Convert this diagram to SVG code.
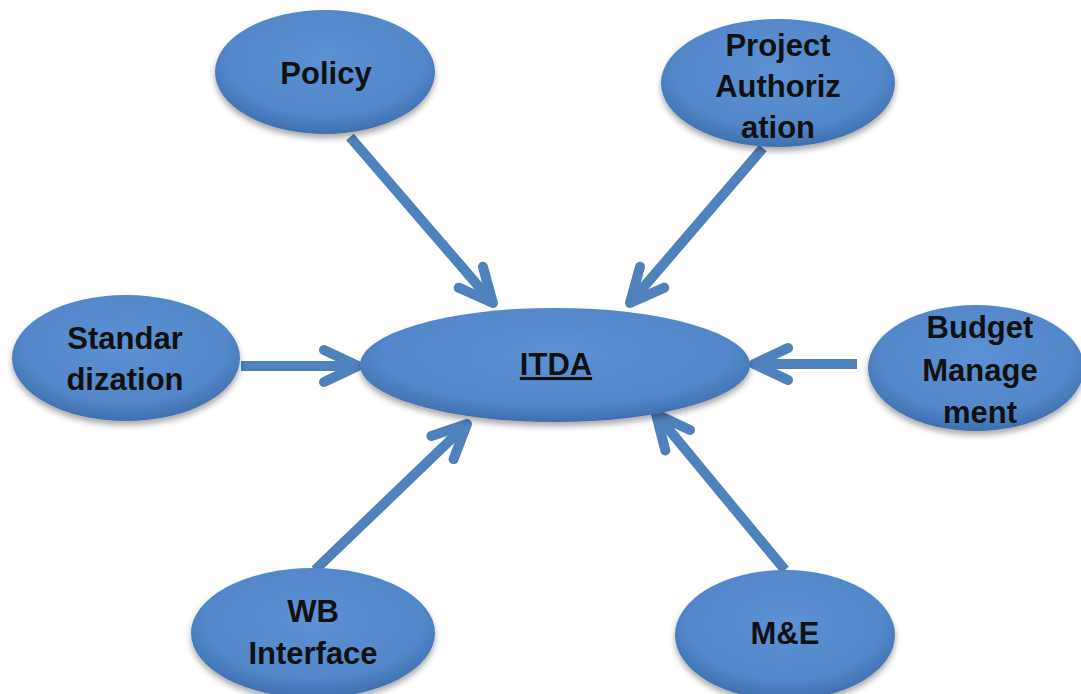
<svg xmlns="http://www.w3.org/2000/svg" width="1081" height="694" viewBox="0 0 1081 694">
<style>
.node{fill:url(#g);filter:url(#sh);}
.lbl{font-family:"Liberation Sans",Arial,sans-serif;font-weight:bold;font-size:31px;fill:#111;text-anchor:middle;}
.arr{stroke:#4f81bd;stroke-width:10;fill:none;stroke-linecap:butt;marker-end:url(#head);}
</style>
<defs>
<radialGradient id="g" cx="50%" cy="40%" r="60%">
<stop offset="0" stop-color="#5c91d3"/>
<stop offset="0.75" stop-color="#5287c9"/>
<stop offset="1" stop-color="#3f6fae"/>
</radialGradient>
<filter id="sh" x="-10%" y="-10%" width="120%" height="130%">
<feGaussianBlur in="SourceAlpha" stdDeviation="3"/>
<feOffset dx="0" dy="4" result="b"/>
<feComponentTransfer><feFuncA type="linear" slope="0.35"/></feComponentTransfer>
<feMerge><feMergeNode/><feMergeNode in="SourceGraphic"/></feMerge>
</filter>
<marker id="head" markerUnits="userSpaceOnUse" viewBox="-45 -25 55 50" markerWidth="55" markerHeight="50" refX="0" refY="0" orient="auto">
<path d="M-34,-16 L0,0 L-34,16" fill="none" stroke="#4f81bd" stroke-width="10" stroke-linecap="round" stroke-linejoin="round"/>
</marker>
</defs>
<rect width="1081" height="694" fill="#fff"/>
<g id="connectors">
<line class="arr" x1="350" y1="137" x2="493" y2="303"/>
<line class="arr" x1="763" y1="148" x2="630" y2="303"/>
<line class="arr" x1="241" y1="366" x2="358" y2="366"/>
<line class="arr" x1="857" y1="364" x2="754" y2="364"/>
<line class="arr" x1="315" y1="570" x2="467" y2="424"/>
<line class="arr" x1="785" y1="570" x2="656" y2="414"/>
</g>
<g id="itda">
<ellipse class="node" cx="555" cy="365" rx="195" ry="57"/>
<text class="lbl" x="556" y="375" text-decoration="underline">ITDA</text>
</g>
<g id="policy">
<ellipse class="node" cx="325" cy="72" rx="110" ry="62"/>
<text class="lbl" x="326" y="84">Policy</text>
</g>
<g id="project-authorization">
<ellipse class="node" cx="778" cy="83" rx="117" ry="64"/>
<text class="lbl" x="778" y="56">Project</text>
<text class="lbl" x="778" y="97">Authoriz</text>
<text class="lbl" x="778" y="138">ation</text>
</g>
<g id="standardization">
<ellipse class="node" cx="126" cy="358" rx="114" ry="63"/>
<text class="lbl" x="125" y="349">Standar</text>
<text class="lbl" x="125" y="390">dization</text>
</g>
<g id="budget-management">
<ellipse class="node" cx="976" cy="368" rx="108" ry="63"/>
<text class="lbl" x="980" y="338">Budget</text>
<text class="lbl" x="980" y="381">Manage</text>
<text class="lbl" x="980" y="423">ment</text>
</g>
<g id="wb-interface">
<ellipse class="node" cx="313" cy="633" rx="122" ry="65"/>
<text class="lbl" x="313" y="622">WB</text>
<text class="lbl" x="313" y="664">Interface</text>
</g>
<g id="me">
<ellipse class="node" cx="785" cy="635" rx="110" ry="65"/>
<text class="lbl" x="785" y="644">M&amp;E</text>
</g>
</svg>
